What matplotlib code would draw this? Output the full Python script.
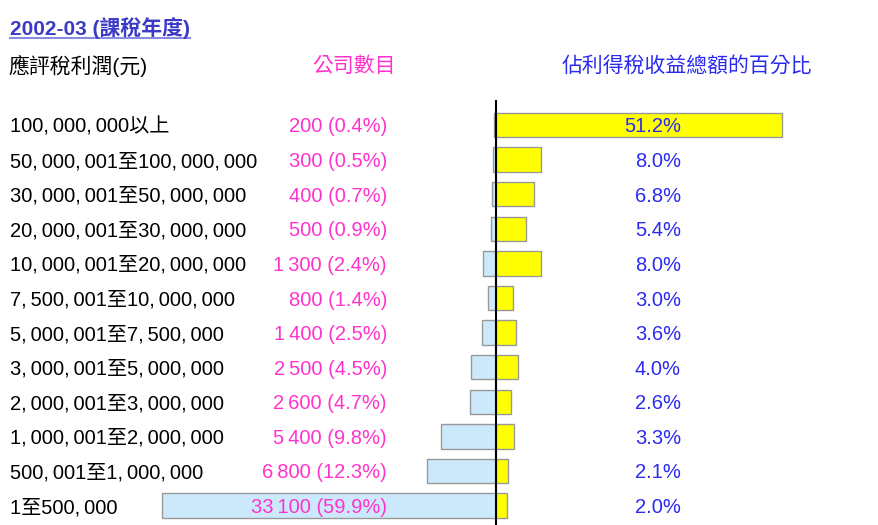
import matplotlib
matplotlib.use('Agg')
import matplotlib.pyplot as plt
from matplotlib.lines import Line2D
import matplotlib.transforms as mtransforms

plt.rcParams['font.family'] = ['Liberation Sans', 'Noto Sans CJK TC', 'DejaVu Sans']

# data
ranges = ['100,000,000以上', '50,000,001至100,000,000', '30,000,001至50,000,000',
          '20,000,001至30,000,000', '10,000,001至20,000,000', '7,500,001至10,000,000',
          '5,000,001至7,500,000', '3,000,001至5,000,000', '2,000,001至3,000,000',
          '1,000,001至2,000,000', '500,001至1,000,000', '1至500,000']
counts = ['200', '300', '400', '500', '1\u2009300', '800', '1\u2009400',
          '2\u2009500', '2\u2009600', '5\u2009400', '6\u2009800', '33\u2009100']
count_pct = [0.4, 0.5, 0.7, 0.9, 2.4, 1.4, 2.5, 4.5, 4.7, 9.8, 12.3, 59.9]
tax_pct = [51.2, 8.0, 6.8, 5.4, 8.0, 3.0, 3.6, 4.0, 2.6, 3.3, 2.1, 2.0]

W, H = 879, 525
fig = plt.figure(figsize=(W / 100, H / 100), dpi=100)
ax = fig.add_axes([0, 0, 1, 1])
ax.axis('off')

px = 5.58          # pixels per percent
x0 = 496           # pixel position of the zero line
row0, step = 125, 34.6
ax.set_xlim(-x0 / px, (W - x0) / px)
ax.set_ylim((H - row0) / step, -row0 / step)

pink = '#ff33cc'
blue = '#2b2bf0'
rows = range(len(ranges))

ax.barh(rows, [-v for v in count_pct], height=0.71, color='#cce9fb',
        edgecolor='#999999', linewidth=1, zorder=2)
ax.barh(rows, tax_pct, height=0.71, color='#ffff00',
        edgecolor='#999999', linewidth=1, zorder=3)
ax.plot([0, 0], [(101 - row0) / step, (H - row0) / step], color='black', lw=1.5, zorder=4)

# text sits a couple of pixels below the bar centre line
tr = mtransforms.blended_transform_factory(fig.transFigure, ax.transData)
tr = tr + mtransforms.ScaledTranslation(0, -2 / 100, fig.dpi_scale_trans)
fs = 14.5
for i in rows:
    # commas in the reference are spaced out a little
    lab = ranges[i].replace(',', ',\u2009')
    ax.text(10 / W, i, lab, transform=tr, ha='left', va='center', fontsize=fs, color='black')
    ax.text(387 / W, i, f'{counts[i]} ({count_pct[i]:.1f}%)', transform=tr,
            ha='right', va='center', fontsize=fs, color=pink, zorder=5)
    ax.text(681 / W, i, f'{tax_pct[i]:.1f}%', transform=tr,
            ha='right', va='center', fontsize=fs, color=blue, zorder=5)

# headers
hy = 1 - 66 / H
fig.text(8 / W, hy, '應評稅利潤(元)', ha='left', va='center', fontsize=15, color='black')
fig.text(354 / W, hy, '公司數目', ha='center', va='center', fontsize=15, color=pink)
fig.text(687 / W, hy, '佔利得稅收益總額的百分比', ha='center', va='center', fontsize=15, color=blue)

title = fig.text(10 / W, 1 - 28 / H, '2002-03 (課稅年度)', ha='left', va='center',
                 fontsize=15, fontweight='bold', color='#3b3bc8')
fig.canvas.draw()
bb = title.get_window_extent()
uy = 1 - 38 / H
fig.add_artist(Line2D([bb.x0 / W, bb.x1 / W], [uy, uy], transform=fig.transFigure,
                      color='#8a8ae0', lw=1.5))

fig.savefig('out.png', dpi=100)
